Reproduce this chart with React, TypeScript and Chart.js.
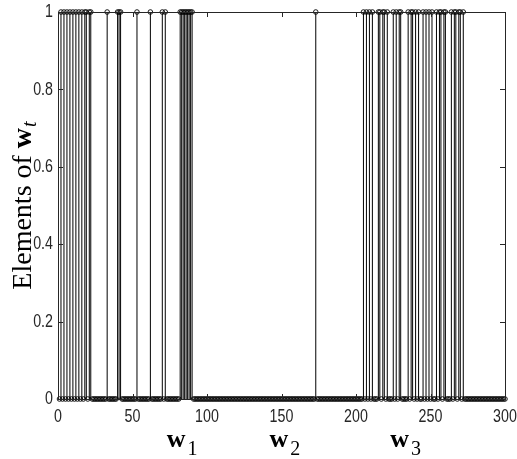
import { useEffect, useRef } from "react";
import { Chart, registerables } from "chart.js";

Chart.register(...registerables);

// Length of the weight vector w_t (elements indexed 1..300)
const elementCount = 300;

// Indices of the elements equal to 1, grouped by block
const onesBlock1 = [2, 4, 6, 8, 10, 12, 14, 16, 18, 19, 21, 22, 33, 40, 41, 42, 53, 62, 70, 72, 82, 83, 84, 85, 86, 87, 88, 89, 90];
const onesBlock2 = [173];
const onesBlock3 = [
  205, 207, 209, 211,
  215, 216, 218, 219, 221,
  225, 227, 229, 230,
  235, 237, 238, 240, 242,
  245, 247, 249, 251,
  254, 256, 257, 259, 260,
  264, 266, 267, 269, 270, 272,
];

// Block labels under the x axis: subscript and element index where each starts
const blockSubscripts = ["1", "2", "3"];
const blockLabelStarts = [73, 142, 223];

const xTickStep = 50;
const yTickStep = 0.2;

const ones = new Set([...onesBlock1, ...onesBlock2, ...onesBlock3]);
const elementValues: number[] = [];
for (let k = 1; k <= elementCount; k++) elementValues.push(ones.has(k) ? 1 : 0);

const INK = "#262626";
const TICK_FONT = "19px 'Liberation Sans', Arial, sans-serif";
const TICK_SQUEEZE = 0.75;
const SERIF = "'Liberation Serif', 'Times New Roman', 'DejaVu Serif', serif";

const fmtTick = (v: number) => String(Number(v.toFixed(1)));

const boxAndTicks = {
  id: "boxAndTicks",
  afterDatasetsDraw(chart: any) {
    const { ctx, chartArea: a, scales } = chart;
    const len = 5;
    ctx.save();
    ctx.strokeStyle = INK;
    ctx.lineWidth = 1;
    ctx.beginPath();
    ctx.rect(Math.round(a.left) + 0.5, Math.round(a.top) + 0.5, Math.round(a.right - a.left), Math.round(a.bottom - a.top));
    for (const t of scales.x.ticks) {
      const px = Math.round(scales.x.getPixelForValue(t.value)) + 0.5;
      ctx.moveTo(px, a.bottom);
      ctx.lineTo(px, a.bottom - len);
      ctx.moveTo(px, a.top);
      ctx.lineTo(px, a.top + len);
    }
    for (const t of scales.y.ticks) {
      const py = Math.round(scales.y.getPixelForValue(t.value)) + 0.5;
      ctx.moveTo(a.left, py);
      ctx.lineTo(a.left + len, py);
      ctx.moveTo(a.right, py);
      ctx.lineTo(a.right - len, py);
    }
    ctx.stroke();

    // Tick labels in a condensed face
    ctx.fillStyle = INK;
    ctx.font = TICK_FONT;
    ctx.textBaseline = "middle";
    for (const t of scales.x.ticks) {
      const px = scales.x.getPixelForValue(t.value);
      ctx.save();
      ctx.translate(px, a.bottom + 18);
      ctx.scale(TICK_SQUEEZE, 1);
      ctx.textAlign = "center";
      ctx.fillText(fmtTick(t.value), 0, 0);
      ctx.restore();
    }
    for (const t of scales.y.ticks) {
      const py = scales.y.getPixelForValue(t.value);
      ctx.save();
      ctx.translate(a.left - 5, py);
      ctx.scale(TICK_SQUEEZE, 1);
      ctx.textAlign = "right";
      ctx.fillText(fmtTick(t.value), 0, 0);
      ctx.restore();
    }
    ctx.restore();
  },
  afterDraw(chart: any) {
    const { ctx, chartArea: a, scales } = chart;
    ctx.save();
    ctx.fillStyle = "#000";
    ctx.textBaseline = "alphabetic";
    ctx.textAlign = "left";

    // y-axis title: "Elements of w_t"
    const partA = "Elements of ";
    const fA = `28px ${SERIF}`;
    const fW = `bold 28px ${SERIF}`;
    const fT = `italic 20px ${SERIF}`;
    ctx.font = fA;
    const wA = ctx.measureText(partA).width;
    ctx.font = fW;
    const wW = ctx.measureText("w").width;
    ctx.font = fT;
    const wT = ctx.measureText("t").width;
    const total = wA + wW + wT + 1;
    ctx.translate(31, (a.top + a.bottom) / 2);
    ctx.rotate(-Math.PI / 2);
    let x = -total / 2;
    ctx.font = fA;
    ctx.fillText(partA, x, 0);
    x += wA;
    ctx.font = fW;
    ctx.fillText("w", x, 0);
    x += wW + 1;
    ctx.font = fT;
    ctx.fillText("t", x, 5);
    ctx.setTransform(1, 0, 0, 1, 0, 0);

    // Block labels w_1, w_2, w_3 below the axis
    blockSubscripts.forEach((sub, i) => {
      const px = scales.x.getPixelForValue(blockLabelStarts[i]);
      ctx.font = `bold 26px ${SERIF}`;
      ctx.fillText("w", px, 447);
      const ww = ctx.measureText("w").width;
      ctx.font = `20px ${SERIF}`;
      ctx.fillText(sub, px + ww + 2, 455);
    });
    ctx.restore();
  },
};

export default function App() {
  const canvasRef = useRef<HTMLCanvasElement | null>(null);

  useEffect(() => {
    if (!canvasRef.current) return;

    const markers = elementValues.map((v, i) => ({ x: i + 1, y: v }));
    const stems: { x: number; y: number | null }[] = [];
    elementValues.forEach((v, i) => {
      if (v !== 0) {
        stems.push({ x: i + 1, y: 0 }, { x: i + 1, y: v }, { x: i + 1, y: null });
      }
    });

    const chart = new Chart(canvasRef.current, {
      type: "scatter",
      data: {
        datasets: [
          {
            type: "line",
            data: stems as any,
            borderColor: "#000",
            borderWidth: 1,
            pointRadius: 0,
            spanGaps: false,
            fill: false,
            tension: 0,
          },
          {
            type: "scatter",
            data: markers,
            pointStyle: "circle",
            pointRadius: 2.3,
            borderWidth: 0.9,
            borderColor: "#000",
            backgroundColor: "rgba(255,255,255,0)",
            clip: false as any,
          },
        ],
      },
      options: {
        animation: false,
        responsive: true,
        maintainAspectRatio: false,
        events: [],
        layout: { padding: { left: 0, right: 12, top: 12, bottom: 0 } },
        plugins: { legend: { display: false }, tooltip: { enabled: false } },
        scales: {
          x: {
            type: "linear",
            min: 0,
            max: elementCount,
            offset: false,
            grid: { display: false, drawTicks: false },
            border: { display: false },
            ticks: { stepSize: xTickStep, display: false },
            afterFit: (s: any) => {
              s.height = 60;
              s.paddingLeft = 0;
              s.paddingRight = 0;
            },
          },
          y: {
            min: 0,
            max: 1,
            grid: { display: false, drawTicks: false },
            border: { display: false },
            ticks: { stepSize: yTickStep, display: false },
            afterFit: (s: any) => {
              s.width = 58;
              s.paddingTop = 0;
              s.paddingBottom = 0;
            },
          },
        },
      },
      plugins: [boxAndTicks],
    });

    return () => chart.destroy();
  }, []);

  return (
    <div style={{ position: "fixed", left: 0, top: 0, width: 517, height: 459, background: "#fff" }}>
      <canvas ref={canvasRef} />
    </div>
  );
}
